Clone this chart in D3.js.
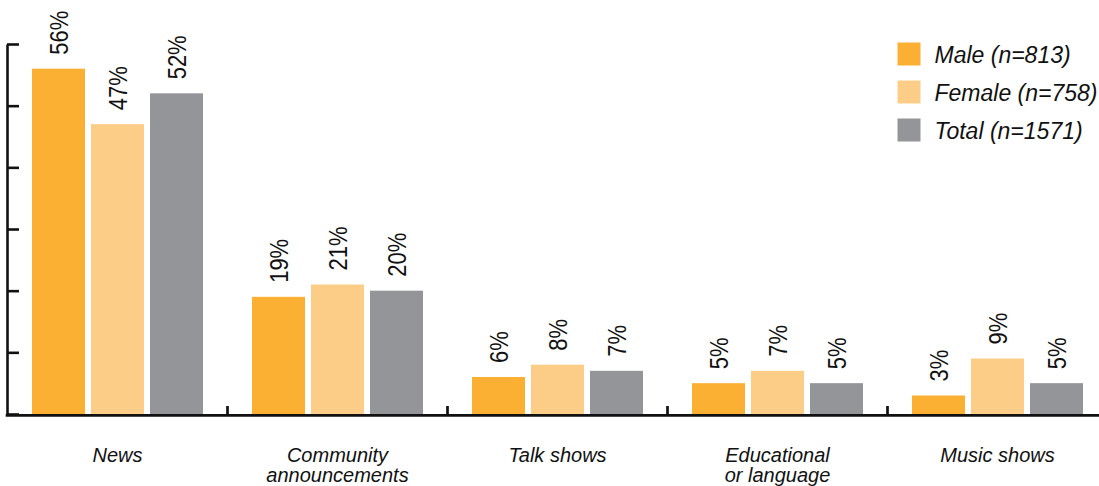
<!DOCTYPE html>
<html>
<head>
<meta charset="utf-8">
<script src="https://cdn.jsdelivr.net/npm/d3@7"></script>
<style>
  html, body { margin: 0; padding: 0; background: #fff; }
  svg { display: block; font-family: "Liberation Sans", Arial, Helvetica, sans-serif; }
</style>
</head>
<body>
<svg id="chart" width="1099" height="486"></svg>
<script>
const categories = [["News"], ["Community", "announcements"], ["Talk shows"], ["Educational", "or language"], ["Music shows"]];
const seriesNames = ["Male (n=813)", "Female (n=758)", "Total (n=1571)"];
const maleValues   = [56, 19, 6, 5, 3];
const femaleValues = [47, 21, 8, 7, 9];
const totalValues  = [52, 20, 7, 5, 5];
const yTicks = [0, 10, 20, 30, 40, 50, 60];
const colors = ["#fbb034", "#fccd87", "#949599"];

const seriesValues = [maleValues, femaleValues, totalValues];
const catKeys = categories.map(c => c.join(" "));

const svg = d3.select("#chart");
const ink = "#111";

const x0 = d3.scaleBand().domain(catKeys).range([7.5, 1107.5]).paddingInner(0).paddingOuter(0);
const x1 = d3.scaleBand().domain(seriesNames).range([24.5, 195.5]).paddingInner(6 / 59).paddingOuter(0);
const y = d3.scaleLinear().domain([0, 60]).range([414, 44]);

// bars
const groups = svg.append("g").selectAll("g")
  .data(catKeys)
  .join("g")
  .attr("transform", d => `translate(${x0(d)},0)`);

groups.each(function(cat, ci) {
  const g = d3.select(this);
  const data = seriesNames.map((s, si) => ({ s, si, v: seriesValues[si][ci] }));
  g.selectAll("rect").data(data).join("rect")
    .attr("x", d => x1(d.s))
    .attr("y", d => y(d.v))
    .attr("width", x1.bandwidth())
    .attr("height", d => y(0) - y(d.v))
    .attr("fill", d => colors[d.si]);
  g.selectAll("text").data(data).join("text")
    .attr("transform", d => `translate(${x1(d.s) + x1.bandwidth() / 2},${y(d.v) - 14}) rotate(-90) scale(1,1.15)`)
    .attr("text-anchor", "start")
    .attr("dy", "0.36em")
    .attr("font-size", "22px")
    .attr("fill", ink)
    .text(d => d.v + "%");
});

// y axis
const yAxis = d3.axisRight(y).tickValues(yTicks).tickSize(12).tickSizeOuter(0).tickFormat("");
const yg = svg.append("g").attr("transform", "translate(7,0)").call(yAxis);
yg.select(".domain").attr("stroke", ink).attr("stroke-width", 2.6);
yg.selectAll(".tick line").attr("stroke", ink).attr("stroke-width", 2.6);

// x axis
const xAxis = d3.axisBottom(x0).tickSize(0).tickSizeOuter(0).tickFormat("");
const xg = svg.append("g").attr("transform", "translate(0,415.3)").call(xAxis);
xg.select(".domain").attr("stroke", ink).attr("stroke-width", 2.7).attr("d", `M5.7,0H${x0.range()[1]}`);
xg.selectAll(".tick").remove();

// category separators
svg.append("g").selectAll("line")
  .data(catKeys.slice(1))
  .join("line")
  .attr("x1", d => x0(d)).attr("x2", d => x0(d))
  .attr("y1", 406).attr("y2", 415)
  .attr("stroke", ink).attr("stroke-width", 2.7);

// category labels
const labels = svg.append("g").selectAll("text")
  .data(categories)
  .join("text")
  .attr("x", (d, i) => x0(catKeys[i]) + x0.bandwidth() / 2)
  .attr("y", 462)
  .attr("text-anchor", "middle")
  .attr("font-size", "20px")
  .attr("font-style", "italic")
  .attr("fill", ink);
labels.selectAll("tspan")
  .data(d => d)
  .join("tspan")
  .attr("x", function() { return d3.select(this.parentNode).attr("x"); })
  .attr("dy", (d, i) => i === 0 ? 0 : 20)
  .text(d => d);

// legend
const legend = svg.append("g").attr("transform", "translate(897.5,42.5)");
const li = legend.selectAll("g").data(seriesNames).join("g")
  .attr("transform", (d, i) => `translate(0,${i * 38})`);
li.append("rect").attr("width", 23).attr("height", 23).attr("fill", (d, i) => colors[i]);
li.append("text")
  .attr("x", 37).attr("y", 20.2)
  .attr("font-size", "23px")
  .attr("font-style", "italic")
  .attr("fill", ink)
  .text(d => d);
</script>
</body>
</html>
